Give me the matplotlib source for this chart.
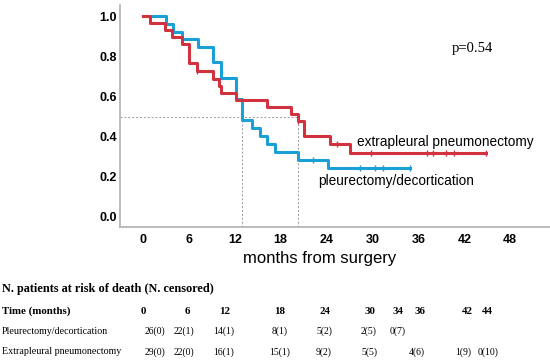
import numpy as np
import matplotlib
matplotlib.use("Agg")
import matplotlib.pyplot as plt

# Kaplan-Meier curves (months, survival)
pd_times = [0, 2.97, 3.96, 5.06, 7.15, 9.1, 10.15, 12.2, 12.95, 14.2, 15.3, 16.2, 17.25, 20.3, 24.2, 34.9]
pd_surv = [1.0, 0.962, 0.923, 0.885, 0.846, 0.769, 0.692, 0.585, 0.483, 0.441, 0.403, 0.365, 0.325, 0.284, 0.242, 0.242]
pd_censor = [22.2, 28.4, 30.3, 31.4, 34.9]

epp_times = [0, 0.9, 2.9, 3.75, 5.05, 6.05, 7.0, 9.1, 10.0, 10.2, 12.2, 16.2, 19.3, 20.2, 21.1, 24.4, 27.1, 44.9]
epp_surv = [1.0, 0.965, 0.931, 0.897, 0.862, 0.765, 0.724, 0.688, 0.652, 0.616, 0.584, 0.549, 0.51, 0.48, 0.403, 0.362, 0.317, 0.317]
epp_censor = [7.0, 20.2, 25.4, 29.8, 37.1, 37.9, 39.6, 40.6, 44.9]

medians = [12.95, 20.2]
x_ticks = [0, 6, 12, 18, 24, 30, 36, 42, 48]
y_ticks = [0.0, 0.2, 0.4, 0.6, 0.8, 1.0]

# risk table
risk_times = ["0", "6", "12", "18", "24", "30", "34", "36", "42", "44"]
risk_pd = ["26(0)", "22(1)", "14(1)", "8(1)", "5(2)", "2(5)", "0(7)", "", "", ""]
risk_epp = ["29(0)", "22(0)", "16(1)", "15(1)", "9(2)", "5(5)", "", "4(6)", "1(9)", "0(10)"]

RED = "#d2323f"
BLUE = "#1a9fd6"
W, H = 550, 360


def surv_at(times, surv, pts):
    # value of the step curve at the censoring times
    idx = np.searchsorted(times, pts, side="right") - 1
    return np.asarray(surv)[idx]


fig = plt.figure(figsize=(W / 100, H / 100), dpi=100)
ax = fig.add_axes([120 / W, 1 - 227 / H, 430 / W, 222 / H])

ax.plot([-3, medians[1]], [0.5, 0.5], color="#999999", lw=0.7, ls=(0, (2, 2)))
for m in medians:
    ax.plot([m, m], [-0.05, 0.5], color="#999999", lw=0.7, ls=(0, (2, 2)))

ax.step(pd_times, pd_surv, where="post", color=BLUE, lw=2.2)
ax.step(epp_times, epp_surv, where="post", color=RED, lw=2.2)
ax.plot(pd_censor, surv_at(pd_times, pd_surv, pd_censor),
        ls="none", marker="|", ms=4, mew=1, color=BLUE)
ax.plot(epp_censor, surv_at(epp_times, epp_surv, epp_censor),
        ls="none", marker="|", ms=4, mew=1, color=RED)

ax.set_xlim(-3, 53.2)
ax.set_ylim(-0.05, 1.055)
ax.set_xticks(x_ticks)
ax.set_yticks(y_ticks)
ax.set_xticklabels([str(t) for t in x_ticks], fontweight="bold", fontsize=9, family="Liberation Sans")
ax.set_yticklabels([f"{t:.1f}" for t in y_ticks], fontweight="bold", fontsize=9, family="Liberation Sans")
ax.tick_params(axis="y", length=0, pad=2)
ax.tick_params(axis="x", length=0, pad=5)
for s in ["top", "right"]:
    ax.spines[s].set_visible(False)
for s in ["left", "bottom"]:
    ax.spines[s].set_color("#b0b0b0")
    ax.spines[s].set_linewidth(1.2)
ax.set_xlabel("months from surgery", family="Liberation Sans", fontsize=12)
ax.xaxis.set_label_coords(200 / 430, -24 / 222)

ax.text(28.0, 0.375, "extrapleural pneumonectomy", family="Liberation Sans", fontsize=9.8, va="center")
ax.text(22.9, 0.179, "pleurectomy/decortication", family="Liberation Sans", fontsize=9.8, va="center")
ax.text(40.4, 0.836, "p=0.54", family="Liberation Serif", fontsize=10.5, va="center")

# risk table below the plot
serif = "Liberation Serif"
col_x = [143, 187, 225, 280, 325, 370, 398, 420, 467, 487]
val_x = [155, 184, 224, 280, 324, 369, 398, 417, 463, 488]
fig.text(2 / W, 1 - 289 / H, "N. patients at risk of death (N. censored)", family=serif,
         fontweight="bold", fontsize=8.8, va="center")
fig.text(2 / W, 1 - 311 / H, "Time (months)", family=serif, fontweight="bold", fontsize=7.8, va="center")
fig.text(2 / W, 1 - 331 / H, "Pleurectomy/decortication", family=serif, fontsize=7.2, va="center")
fig.text(2 / W, 1 - 352 / H, "Extrapleural pneumonectomy", family=serif, fontsize=7.2, va="center")
for i, t in enumerate(risk_times):
    fig.text(col_x[i] / W, 1 - 311 / H, t, family=serif, fontweight="bold", fontsize=7.8, ha="center", va="center")
    fig.text(val_x[i] / W, 1 - 331 / H, risk_pd[i], family=serif, fontsize=7, ha="center", va="center")
    fig.text(val_x[i] / W, 1 - 352 / H, risk_epp[i], family=serif, fontsize=7, ha="center", va="center")

fig.savefig("out.png", dpi=100)
